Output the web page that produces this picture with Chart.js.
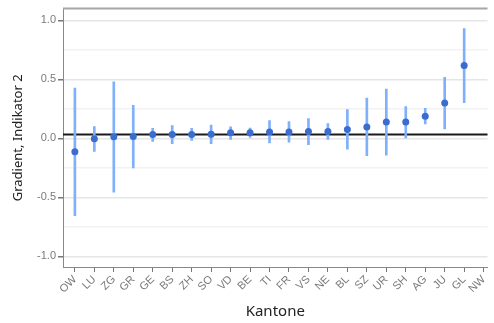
<!DOCTYPE html>
<html><head><meta charset="utf-8">
<script src="https://cdn.jsdelivr.net/npm/chart.js@4"></script>
<style>html,body{margin:0;padding:0;background:#fff}canvas{display:block}</style>
</head><body>
<canvas id="c" width="494" height="323"></canvas>
<script>
const kantone = ['OW','LU','ZG','GR','GE','BS','ZH','SO','VD','BE','TI','FR','VS','NE','BL','SZ','UR','SH','AG','JU','GL','NW'];
const estimate = [-0.114,-0.003,0.013,0.017,0.033,0.033,0.033,0.036,0.047,0.047,0.055,0.055,0.058,0.058,0.075,0.097,0.138,0.138,0.188,0.30,0.617,null];
const lower    = [-0.656,-0.11,-0.456,-0.25,-0.025,-0.045,-0.017,-0.045,-0.008,0.008,-0.039,-0.031,-0.053,-0.008,-0.092,-0.147,-0.142,0.005,0.122,0.08,0.303,null];
const upper    = [0.427,0.10,0.48,0.28,0.086,0.108,0.086,0.113,0.097,0.088,0.15,0.142,0.167,0.125,0.244,0.342,0.417,0.269,0.255,0.517,0.93,null];
const referenceValue = 0.035;
const yLabelStep = 0.5;

const frame = {
  id: 'frame',
  beforeDatasetsDraw(chart) {
    const {ctx, chartArea: a, scales: {y}} = chart;
    ctx.save();
    ctx.strokeStyle = '#a6a6a6';
    ctx.lineWidth = 2;
    ctx.beginPath(); ctx.moveTo(a.left, a.top); ctx.lineTo(a.right, a.top); ctx.stroke();
    const py = Math.round(y.getPixelForValue(referenceValue)) + 0.5;
    ctx.strokeStyle = '#1a1a1a';
    ctx.lineWidth = 2;
    ctx.beginPath(); ctx.moveTo(a.left, py); ctx.lineTo(a.right, py); ctx.stroke();
    ctx.restore();
  }
};

const isMajor = v => Math.abs(v / yLabelStep - Math.round(v / yLabelStep)) < 1e-6;
const idx = kantone.map((k, i) => i).filter(i => estimate[i] != null);

new Chart(document.getElementById('c'), {
  type: 'bar',
  data: {
    datasets: [
      {
        type: 'line',
        showLine: false,
        data: idx.map(i => ({x: i, y: estimate[i]})),
        pointRadius: 3.5,
        pointBackgroundColor: '#3b6dcf',
        pointBorderColor: '#3b6dcf',
        pointBorderWidth: 0,
        order: 0
      },
      {
        type: 'bar',
        data: idx.map(i => ({x: i, y: [lower[i], upper[i]]})),
        backgroundColor: '#7fb0fb',
        borderWidth: 0,
        barThickness: 2,
        order: 1
      }
    ]
  },
  options: {
    responsive: false,
    animation: false,
    layout: {padding: {top: 5, right: 0, left: 0, bottom: 0}},
    plugins: {legend: {display: false}, tooltip: {enabled: false}},
    scales: {
      x: {
        type: 'linear',
        min: -0.61,
        max: 21.2,
        offset: false,
        afterFit: s => { s.height = 56; },
        border: {color: '#888', width: 1},
        grid: {offset: false, drawOnChartArea: false, drawTicks: true, tickLength: 5, tickColor: '#777'},
        ticks: {
          stepSize: 1,
          includeBounds: false,
          autoSkip: false,
          maxRotation: 45,
          minRotation: 45,
          padding: 1,
          color: '#7a7a7a',
          font: {family: 'Liberation Sans, Arial', size: 11},
          callback: v => kantone[v] ?? ''
        },
        title: {
          display: true,
          text: 'Kantone',
          color: '#222',
          font: {family: 'Noto Sans', size: 15},
          padding: {top: 0, bottom: 2}
        }
      },
      y: {
        min: -1.09,
        max: 1.1,
        afterFit: s => { s.width = 63; },
        border: {color: '#888', width: 1},
        grid: {
          color: ctx => isMajor(ctx.tick.value) ? '#e6e6e6' : '#f2f2f2',
          lineWidth: 1.5,
          tickColor: ctx => isMajor(ctx.tick.value) ? '#777' : 'rgba(0,0,0,0)',
          tickLength: 5
        },
        ticks: {
          stepSize: 0.25,
          includeBounds: false,
          autoSkip: false,
          padding: 2,
          color: '#7a7a7a',
          font: {family: 'Liberation Sans, Arial', size: 11},
          callback: v => isMajor(v) ? v.toFixed(1) : ''
        },
        title: {
          display: true,
          text: 'Gradient, Indikator 2',
          color: '#222',
          font: {family: 'Noto Sans', size: 13},
          padding: {top: 10, bottom: 4}
        }
      }
    }
  },
  plugins: [frame]
});
</script>
</body></html>
